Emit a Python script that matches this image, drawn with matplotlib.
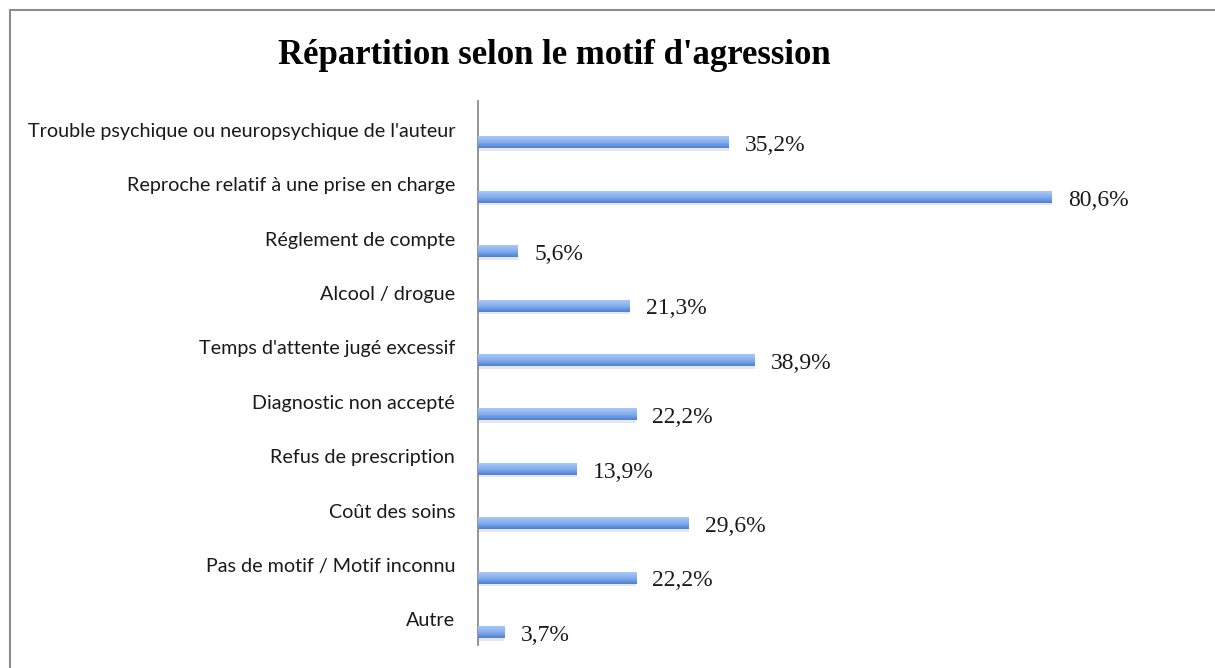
import matplotlib
matplotlib.use("Agg")
import matplotlib.pyplot as plt
import numpy as np
from matplotlib.colors import LinearSegmentedColormap
from matplotlib.patches import Rectangle

categories = [
    "Trouble psychique ou neuropsychique de l'auteur",
    "Reproche relatif à une prise en charge",
    "Réglement de compte",
    "Alcool / drogue",
    "Temps d'attente jugé excessif",
    "Diagnostic non accepté",
    "Refus de prescription",
    "Coût des soins",
    "Pas de motif / Motif inconnu",
    "Autre",
]
values = [35.2, 80.6, 5.6, 21.3, 38.9, 22.2, 13.9, 29.6, 22.2, 3.7]
value_labels = ["35,2%", "80,6%", "5,6%", "21,3%", "38,9%", "22,2%", "13,9%", "29,6%", "22,2%", "3,7%"]
title = "Répartition selon le motif d'agression"

W, H = 1215, 668
fig = plt.figure(figsize=(W / 100, H / 100), dpi=100)
fig.patch.set_facecolor("white")

# outer border (only left/top visible)
fig.patches.append(Rectangle((9.5 / W, -0.1), 1.2, 1.1 - 10.5 / H, transform=fig.transFigure,
                             fill=False, edgecolor="#8c8c8c", linewidth=1.5, zorder=0))

ax_left, ax_right = 478 / W, 1190 / W
ax_top, ax_bot = 1 - 101 / H, 1 - 645 / H
ax = fig.add_axes([ax_left, ax_bot, ax_right - ax_left, ax_top - ax_bot])
n = len(categories)

pos = np.arange(n)
bar_off = 0.26
bar_h = 0.22
cmap = LinearSegmentedColormap.from_list("g", ["#a9c8f7", "#86aeee", "#4c80d2"])
grad = np.linspace(0, 1, 64).reshape(-1, 1)

# shadows
ax.barh(pos + bar_off + 0.05, values, height=bar_h, color="#c4c4c4", alpha=0.4, zorder=1, linewidth=0)
bars = ax.barh(pos + bar_off, values, height=bar_h, color="#7ea8ea", zorder=2, linewidth=0)
for b in bars:
    x0, y0 = b.get_x(), b.get_y()
    w, h = b.get_width(), b.get_height()
    im = ax.imshow(grad, extent=(x0, x0 + w, y0 + h, y0), cmap=cmap, aspect="auto", zorder=3,
                   interpolation="bilinear")
    im.set_clip_path(b)
ax.set_xlim(0, 100)
ax.set_ylim(n - 0.5, -0.5)

for p, v, lab in zip(pos, values, value_labels):
    ax.text(v + 2.3, p + bar_off + 0.06, lab, va="center", ha="left",
            fontsize=17, family="Liberation Serif", color="#1a1a1a")

ax.set_yticks(pos + 0.03)
ax.set_yticklabels(categories, fontsize=14.2, family="Lato", color="#1a1a1a")
ax.tick_params(axis="y", length=0, pad=16.5)
ax.set_xticks([])
for s in ["top", "right", "bottom"]:
    ax.spines[s].set_visible(False)
ax.spines["left"].set_color("#8c8c8c")
ax.spines["left"].set_linewidth(1.3)

fig.text(554 / W, 1 - 55 / H, title, ha="center", va="center", fontsize=25,
         family="Liberation Serif", fontweight="bold", color="black")

fig.savefig("out.png", dpi=100)
